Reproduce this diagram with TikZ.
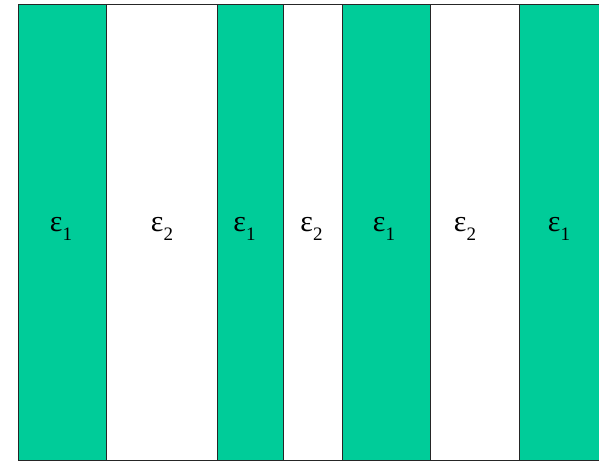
\documentclass[tikz,border=0pt]{standalone}
\usepackage{fontspec}
\setmainfont{Liberation Serif}
\definecolor{slabgreen}{HTML}{00CC99}
\newcommand{\epslab}[1]{\fontsize{30}{32}\selectfont ε\raisebox{-0.28em}{\fontsize{19}{20}\selectfont #1}}
\tikzset{
  layer/.style={draw=black!85, line width=1pt},
  layerone/.style={layer, fill=slabgreen},
  layertwo/.style={layer, fill=white},
  lab/.style={inner sep=0pt, anchor=center}
}
\begin{document}
\begin{tikzpicture}[x=1pt,y=-1pt]
\useasboundingbox (0,0) rectangle (599,461);
\begin{scope}
\clip (0,0) rectangle (599,461);
\draw[layerone] (18,4) rectangle (106,460);
\draw[layertwo] (106,4) rectangle (217,460);
\draw[layerone] (217,4) rectangle (283.5,460);
\draw[layertwo] (283.5,4) rectangle (342.5,460);
\draw[layerone] (342.5,4) rectangle (430.5,460);
\draw[layertwo] (430.5,4) rectangle (519,460);
\draw[layerone] (519,4) rectangle (605,460);
\end{scope}
\node[lab] (l1) at (61,229) {\epslab{1}};
\node[lab] (l2) at (162,229) {\epslab{2}};
\node[lab] (l3) at (244.5,229) {\epslab{1}};
\node[lab] (l4) at (311.5,229) {\epslab{2}};
\node[lab] (l5) at (384,229) {\epslab{1}};
\node[lab] (l6) at (465,229) {\epslab{2}};
\node[lab] (l7) at (559,229) {\epslab{1}};
\end{tikzpicture}
\end{document}
